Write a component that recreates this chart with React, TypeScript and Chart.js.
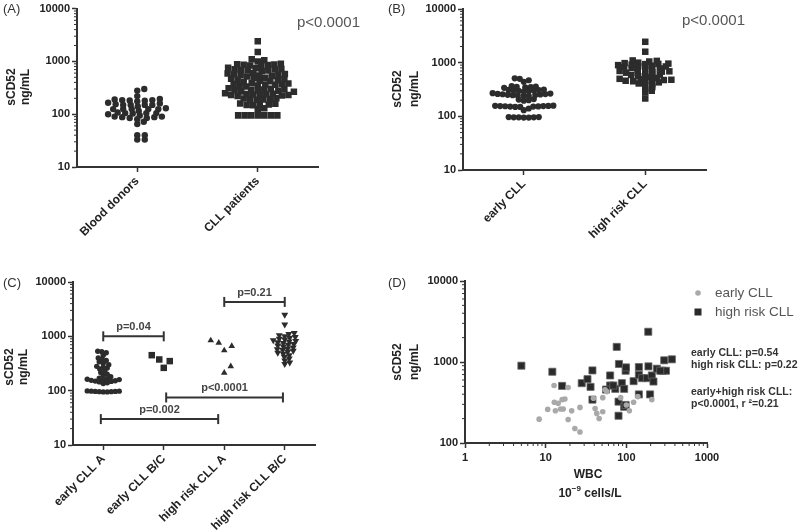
import React, { useEffect, useRef } from 'react';
import { Chart, registerables } from 'chart.js';

Chart.register(...registerables);

// ---------- shared ----------
const yTickValues = [10, 100, 1000, 10000];
const FONT = 'Liberation Sans, Arial, sans-serif';
const INK = '#2c2c2c';

// ---------- Panel A ----------
const groupsA = ['Blood donors', 'CLL patients'];
const bloodDonors = [182, 150, 125, 103, 85, 190, 160, 130, 108, 90, 175, 150, 125, 105, 88, 72, 195, 165, 140, 115, 95, 80, 65, 280, 220, 185, 150, 125, 105, 90, 300, 180, 150, 125, 100, 85, 185, 155, 125, 105, 88, 40, 33, 33, 40];
const cllPatients = [2400, 1500, 1100, 1050, 1000, 900, 880, 870, 860, 850, 840, 830, 760, 740, 720, 710, 700, 690, 680, 670, 660, 600, 590, 580, 570, 560, 550, 540, 530, 520, 490, 480, 470, 460, 450, 440, 430, 420, 410, 390, 380, 375, 370, 365, 360, 350, 340, 335, 310, 305, 300, 295, 290, 285, 280, 275, 270, 265, 250, 245, 240, 238, 235, 232, 230, 228, 225, 220, 200, 198, 195, 192, 190, 188, 160, 158, 155, 152, 150, 148, 130, 125, 95, 95, 95, 95, 95, 95, 95];
const pValueA = 'p<0.0001';

// ---------- Panel B ----------
const groupsB = ['early CLL', 'high risk CLL'];
const earlyCLL = [95, 96, 96, 97, 95, 96, 97, 150, 152, 153, 154, 155, 155, 156, 157, 158, 150, 152, 140, 130, 195, 200, 205, 210, 240, 242, 245, 248, 250, 252, 255, 258, 260, 262, 265, 270, 290, 295, 300, 302, 305, 308, 310, 315, 340, 345, 350, 355, 360, 365, 440, 470, 500, 510];
const highRiskCLL = [2450, 1600, 1100, 1080, 1050, 1000, 980, 960, 950, 940, 920, 900, 880, 860, 850, 830, 820, 800, 780, 760, 740, 720, 700, 690, 680, 660, 650, 640, 620, 600, 590, 580, 560, 540, 520, 500, 490, 480, 475, 470, 460, 450, 440, 430, 410, 400, 380, 350, 330, 300, 280, 215];
const pValueB = 'p<0.0001';

// ---------- Panel C ----------
const groupsC = ['early CLL A', 'early CLL B/C', 'high risk CLL A', 'high risk CLL B/C'];
const earlyA = [95, 95, 96, 96, 97, 97, 98, 98, 99, 145, 148, 150, 152, 155, 158, 160, 162, 165, 140, 135, 170, 180, 190, 200, 215, 230, 250, 260, 270, 280, 300, 320, 340, 360, 380, 400, 450, 500, 520, 530];
const earlyBC = [375, 450, 350, 263];
const highA = [660, 840, 760, 550, 280, 213];
const highBC = [2500, 1650, 1150, 1100, 1050, 1000, 970, 940, 900, 870, 850, 820, 800, 780, 750, 720, 700, 680, 650, 620, 600, 580, 560, 540, 520, 500, 480, 450, 420, 390, 360, 330, 310];
const bracketFrom = [0, 2, 1.04, -0.04];
const bracketTo = [1, 3, 2.97, 1.9];
const bracketY = [1000, 4300, 75, 30];
const bracketLabels = ['p=0.04', 'p=0.21', 'p<0.0001', 'p=0.002'];

// ---------- Panel D ----------
const wbcEarly = [8.3, 10.6, 12.7, 12.8, 13.2, 14.3, 15.3, 16, 17.3, 16.5, 19, 19, 21, 23, 26.6, 26.6, 39, 41, 43, 46, 51, 51, 54.5, 57, 85, 100, 109, 123, 139, 207];
const sEarly = [197, 260, 513, 318, 250, 309, 263, 343, 350, 263, 484, 195, 250, 151, 137, 275, 357, 267, 232, 201, 243, 363, 453, 431, 363, 295, 250, 318, 374, 343];
const wbcHigh = [5.0, 12.1, 16, 28, 33, 36, 38, 38, 63, 63, 56, 76, 81, 80, 80, 88, 94, 98, 99, 94, 98, 73, 69, 123, 143, 143, 143, 157, 180, 187, 188, 197, 207, 217, 239, 281, 295, 310, 367, 263];
const sHigh = [900, 758, 507, 548, 614, 493, 787, 343, 682, 513, 457, 1537, 945, 324, 217, 548, 466, 780, 858, 280, 295, 466, 513, 580, 866, 695, 398, 632, 632, 2362, 883, 398, 682, 574, 826, 780, 1049, 780, 1079, 780];
const legendD = ['early CLL', 'high risk CLL'];
const statsD = ['early CLL: p=0.54', 'high risk CLL: p=0.22', 'early+high risk CLL:', 'p<0.0001, r ²=0.21'];
const xTicksD = [1, 10, 100, 1000];
const yTicksD = [100, 1000, 10000];

// ---------- helpers ----------
// dot-plot layout: spreads close values sideways (dw = min horizontal gap, dh = min vertical gap, in px)
function swarm(values: number[], center: number, pxPerUnit: number, pxPerDecade: number, dw: number, dh: number) {
  const placed: { dx: number; py: number }[] = [];
  const out: { x: number; y: number }[] = [];
  const sorted = [...values].sort((a, b) => a - b);
  for (const v of sorted) {
    const py = Math.log10(v) * pxPerDecade;
    let best = 0;
    for (let step = 0; step < 800; step++) {
      const off = step === 0 ? 0 : (step % 2 ? 1 : -1) * Math.ceil(step / 2) * 0.5;
      if (placed.every((p) => ((p.dx - off) / dw) ** 2 + ((p.py - py) / dh) ** 2 >= 1)) {
        best = off;
        break;
      }
    }
    placed.push({ dx: best, py });
    out.push({ x: center + best / pxPerUnit, y: v });
  }
  return out;
}

type TextItem = { text: string; x: number; y: number; font: string; color?: string; align?: CanvasTextAlign; rot?: number };

function textLayer(items: TextItem[]) {
  return {
    id: 'textLayer',
    afterDraw(chart: any) {
      const ctx = chart.ctx;
      for (const t of items) {
        ctx.save();
        ctx.font = t.font;
        ctx.fillStyle = t.color || '#222';
        ctx.textAlign = t.align || 'left';
        ctx.textBaseline = 'middle';
        ctx.translate(t.x, t.y);
        if (t.rot) ctx.rotate(t.rot);
        ctx.fillText(t.text, 0, 0);
        ctx.restore();
      }
    },
  };
}

function minorTicks(axes: string[]) {
  return {
    id: 'minorTicks',
    afterDraw(chart: any) {
      const ctx = chart.ctx;
      ctx.save();
      ctx.strokeStyle = '#333';
      ctx.lineWidth = 1;
      for (const id of axes) {
        const s = chart.scales[id];
        const lo = Math.round(Math.log10(s.min));
        const hi = Math.round(Math.log10(s.max));
        for (let k = lo; k < hi; k++) {
          for (let m = 2; m <= 9; m++) {
            const p = s.getPixelForValue(m * Math.pow(10, k));
            ctx.beginPath();
            if (s.isHorizontal()) {
              ctx.moveTo(p, s.top);
              ctx.lineTo(p, s.top + 3);
            } else {
              ctx.moveTo(s.right, p);
              ctx.lineTo(s.right - 3, p);
            }
            ctx.stroke();
          }
        }
      }
      ctx.restore();
    },
  };
}

function axisCommon() {
  return {
    grid: { display: true, drawOnChartArea: false, drawTicks: true, tickLength: 5, tickColor: '#333', tickWidth: 1.5, color: '#333' },
    border: { display: true, color: '#333', width: 2 },
  };
}

function yLogAxis(width: number, min: number, max: number, values: number[]) {
  return {
    type: 'logarithmic',
    min,
    max,
    afterBuildTicks: (s: any) => {
      s.ticks = values.map((v) => ({ value: v }));
    },
    afterFit: (s: any) => {
      s.width = width;
    },
    ticks: { callback: (v: any) => String(v), font: { family: FONT, size: 11, weight: 'bold' }, color: '#222', padding: 2, autoSkip: false },
    ...axisCommon(),
  };
}

function catAxis(groups: string[], height: number) {
  return {
    type: 'linear',
    min: -0.5,
    max: groups.length - 0.5,
    afterBuildTicks: (s: any) => {
      s.ticks = groups.map((_, i) => ({ value: i }));
    },
    afterFit: (s: any) => {
      s.height = height;
    },
    ticks: {
      callback: (v: any) => groups[Math.round(v)] ?? '',
      font: { family: FONT, size: 12, weight: 'bold' },
      color: '#222',
      maxRotation: 45,
      minRotation: 45,
      autoSkip: false,
      padding: 2,
    },
    ...axisCommon(),
  };
}

function pointSet(data: any[], style: string, radius: number, color: string, rotation = 0) {
  return {
    data,
    pointStyle: style,
    pointRadius: radius,
    pointHoverRadius: radius,
    pointRotation: rotation,
    backgroundColor: color,
    borderColor: color,
    pointBorderWidth: 0,
    showLine: false,
  };
}

function baseOptions(padTop: number, padRight: number, scales: any) {
  return {
    responsive: false,
    animation: false,
    events: [],
    layout: { padding: { top: padTop, right: padRight, left: 0, bottom: 0 } },
    plugins: { legend: { display: false }, tooltip: { enabled: false } },
    scales,
  };
}

function yTitle(x1: number, x2: number, y: number): TextItem[] {
  const f = `bold 12px ${FONT}`;
  return [
    { text: 'sCD52', x: x1, y, font: f, align: 'center', rot: -Math.PI / 2 },
    { text: 'ng/mL', x: x2, y, font: f, align: 'center', rot: -Math.PI / 2 },
  ];
}

// ---------- panel configs ----------
function configA() {
  const datasets = [
    pointSet(swarm(bloodDonors, 0, 120, 53.5, 7.5, 4.2), 'circle', 3.2, INK),
    pointSet(swarm(cllPatients, 1, 120, 53.5, 6.5, 5.0), 'rect', 4.6, INK),
  ];
  const texts: TextItem[] = [
    { text: '(A)', x: 3, y: 9, font: `13px ${FONT}`, color: '#333' },
    ...yTitle(12, 26, 87),
    { text: pValueA, x: 297, y: 23, font: `15px ${FONT}`, color: '#555' },
  ];
  return {
    type: 'scatter',
    data: { datasets },
    options: baseOptions(7, 82, { x: catAxis(groupsA, 98), y: yLogAxis(77, 10, 10000, yTickValues) }),
    plugins: [minorTicks(['y']), textLayer(texts)],
  };
}

function configB() {
  const datasets = [
    pointSet(swarm(earlyCLL, 0, 121, 53.7, 5, 4.2), 'circle', 3.1, INK),
    pointSet(swarm(highRiskCLL, 1, 121, 53.7, 7.5, 3), 'rect', 4.6, INK),
  ];
  const texts: TextItem[] = [
    { text: '(B)', x: 8, y: 9, font: `13px ${FONT}`, color: '#333' },
    ...yTitle(18, 35, 89),
    { text: pValueB, x: 302, y: 21, font: `15px ${FONT}`, color: '#555' },
  ];
  return {
    type: 'scatter',
    data: { datasets },
    options: baseOptions(9, 94, { x: catAxis(groupsB, 95), y: yLogAxis(83, 10, 10000, yTickValues) }),
    plugins: [minorTicks(['y']), textLayer(texts)],
  };
}

function configC() {
  const datasets: any[] = [
    pointSet(swarm(earlyA, 0, 60.5, 54.3, 4, 3.6), 'circle', 2.7, INK),
    pointSet(swarm(earlyBC, 1, 60.5, 54.3, 8, 10), 'rect', 4.6, INK),
    pointSet(swarm(highA, 2, 60.5, 54.3, 8, 10), 'triangle', 3.8, INK),
    pointSet(swarm(highBC, 3, 60.5, 54.3, 5.5, 3.2), 'triangle', 4.0, INK, 180),
  ];
  bracketLabels.forEach((_, i) => {
    datasets.push({
      type: 'line',
      data: [
        { x: bracketFrom[i], y: bracketY[i] },
        { x: bracketTo[i], y: bracketY[i] },
      ],
      borderColor: '#333',
      borderWidth: 2,
      showLine: true,
      pointStyle: 'line',
      pointRotation: 90,
      pointRadius: 5,
      pointBorderWidth: 2,
      pointBorderColor: '#333',
      fill: false,
    });
  });
  const texts: TextItem[] = [
    { text: '(C)', x: 3, y: 18, font: `13px ${FONT}`, color: '#333' },
    ...yTitle(10, 24, 102),
  ];
  const bracketText = {
    id: 'bracketText',
    afterDraw(chart: any) {
      const ctx = chart.ctx;
      const sx = chart.scales.x;
      const sy = chart.scales.y;
      ctx.save();
      ctx.font = `bold 11px ${FONT}`;
      ctx.fillStyle = '#444';
      ctx.textAlign = 'center';
      ctx.textBaseline = 'middle';
      bracketLabels.forEach((lab, i) => {
        const x = sx.getPixelForValue((bracketFrom[i] + bracketTo[i]) / 2);
        const y = sy.getPixelForValue(bracketY[i]) - 9;
        ctx.fillText(lab, x, y);
      });
      ctx.restore();
    },
  };
  return {
    type: 'scatter',
    data: { datasets },
    options: baseOptions(17, 85, { x: catAxis(groupsC, 86), y: yLogAxis(73, 10, 10000, yTickValues) }),
    plugins: [minorTicks(['y']), textLayer(texts), bracketText],
  };
}

function configD() {
  const early = wbcEarly.map((x, i) => ({ x, y: sEarly[i] }));
  const high = wbcHigh.map((x, i) => ({ x, y: sHigh[i] }));
  const datasets = [
    pointSet(early, 'circle', 2.8, '#a9a9a9'),
    { ...pointSet(high, 'rect', 5, '#2a2a2a'), borderColor: '#666', pointBorderWidth: 0.8 },
  ];
  const xAxis = {
    type: 'logarithmic',
    min: 1,
    max: 1000,
    afterBuildTicks: (s: any) => {
      s.ticks = xTicksD.map((v) => ({ value: v }));
    },
    afterFit: (s: any) => {
      s.height = 88;
    },
    ticks: { callback: (v: any) => String(v), font: { family: FONT, size: 11, weight: 'bold' }, color: '#222', maxRotation: 0, minRotation: 0, autoSkip: false, padding: 3 },
    ...axisCommon(),
  };
  const legendPlot = {
    id: 'legendD',
    afterDraw(chart: any) {
      const ctx = chart.ctx;
      ctx.save();
      ctx.fillStyle = '#a9a9a9';
      ctx.beginPath();
      ctx.arc(318, 28, 2.8, 0, Math.PI * 2);
      ctx.fill();
      ctx.fillStyle = '#2a2a2a';
      ctx.fillRect(314.5, 43.5, 7, 7);
      ctx.restore();
    },
  };
  const statFont = `bold 10.5px ${FONT}`;
  const texts: TextItem[] = [
    { text: '(D)', x: 8, y: 18, font: `13px ${FONT}`, color: '#333' },
    ...yTitle(18, 35, 97),
    { text: legendD[0], x: 335, y: 28, font: `13.5px ${FONT}`, color: '#555' },
    { text: legendD[1], x: 335, y: 47, font: `13.5px ${FONT}`, color: '#555' },
    { text: statsD[0], x: 311, y: 88, font: statFont, color: '#333' },
    { text: statsD[1], x: 311, y: 100, font: statFont, color: '#333' },
    { text: statsD[2], x: 311, y: 127, font: statFont, color: '#333' },
    { text: statsD[3], x: 311, y: 139, font: statFont, color: '#333' },
    { text: 'WBC', x: 208, y: 210, font: `bold 12px ${FONT}`, color: '#222', align: 'center' },
  ];
  const xTitle2 = {
    id: 'xTitle2',
    afterDraw(chart: any) {
      const ctx = chart.ctx;
      ctx.save();
      ctx.fillStyle = '#222';
      ctx.textBaseline = 'middle';
      ctx.textAlign = 'left';
      const big = `bold 12px ${FONT}`;
      const small = `bold 8px ${FONT}`;
      ctx.font = big;
      const w1 = ctx.measureText('10').width;
      const w3 = ctx.measureText(' cells/L').width;
      ctx.font = small;
      const w2 = ctx.measureText('−9').width;
      const total = w1 + w2 + w3;
      let x = 210 - total / 2;
      const y = 229;
      ctx.font = big;
      ctx.fillText('10', x, y);
      x += w1;
      ctx.font = small;
      ctx.fillText('−9', x, y - 5);
      x += w2;
      ctx.font = big;
      ctx.fillText(' cells/L', x, y);
      ctx.restore();
    },
  };
  return {
    type: 'scatter',
    data: { datasets },
    options: baseOptions(16, 93, { x: xAxis, y: yLogAxis(85, 100, 10000, yTicksD) }),
    plugins: [minorTicks(['x', 'y']), textLayer(texts), legendPlot, xTitle2],
  };
}

function Panel({ build, left, top, width, height }: { build: () => any; left: number; top: number; width: number; height: number }) {
  const ref = useRef<HTMLCanvasElement>(null);
  useEffect(() => {
    const chart = new Chart(ref.current as HTMLCanvasElement, build());
    return () => chart.destroy();
  }, []);
  return <canvas ref={ref} width={width} height={height} style={{ position: 'absolute', left, top, width, height }} />;
}

export default function App() {
  return (
    <div style={{ position: 'fixed', left: 0, top: 0, width: 800, height: 531, background: '#fff', overflow: 'hidden' }}>
      <Panel build={configA} left={0} top={0} width={400} height={265} />
      <Panel build={configB} left={380} top={0} width={420} height={265} />
      <Panel build={configC} left={0} top={265} width={400} height={266} />
      <Panel build={configD} left={380} top={265} width={420} height={266} />
    </div>
  );
}
